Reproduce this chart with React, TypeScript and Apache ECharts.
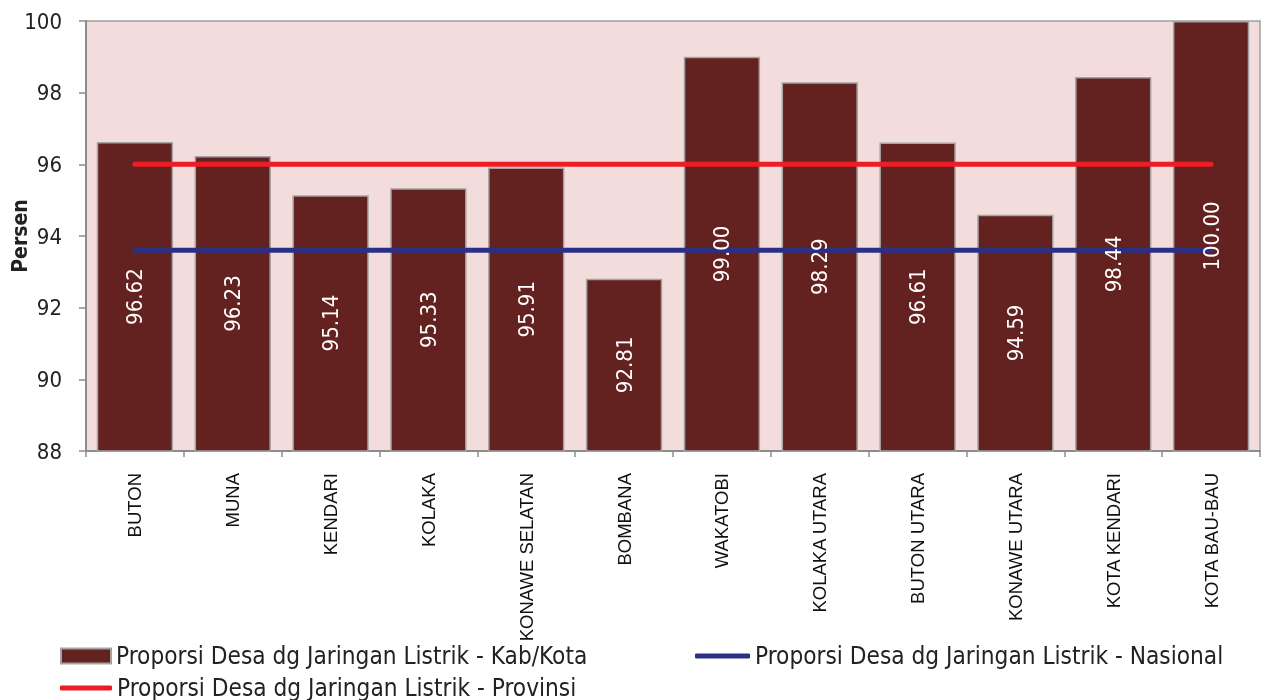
import React, { useEffect, useRef } from "react";
import * as echarts from "echarts";

const categories = [
  "BUTON", "MUNA", "KENDARI", "KOLAKA", "KONAWE SELATAN", "BOMBANA",
  "WAKATOBI", "KOLAKA UTARA", "BUTON UTARA", "KONAWE UTARA", "KOTA KENDARI", "KOTA BAU-BAU",
];
const kabKota = [96.62, 96.23, 95.14, 95.33, 95.91, 92.81, 99.0, 98.29, 96.61, 94.59, 98.44, 100.0];
const nasional = [93.6, 93.6, 93.6, 93.6, 93.6, 93.6, 93.6, 93.6, 93.6, 93.6, 93.6, 93.6];
const provinsi = [96.0, 96.0, 96.0, 96.0, 96.0, 96.0, 96.0, 96.0, 96.0, 96.0, 96.0, 96.0];
const yTicks = { min: 88, max: 100, interval: 2 };

const NAME_BAR = "Proporsi Desa dg Jaringan Listrik - Kab/Kota";
const NAME_NAS = "Proporsi Desa dg Jaringan Listrik - Nasional";
const NAME_PROV = "Proporsi Desa dg Jaringan Listrik - Provinsi";

const FONT = "'DejaVu Sans Condensed', 'DejaVu Sans', sans-serif";

export default function App() {
  const ref = useRef<HTMLDivElement>(null);
  useEffect(() => {
    if (!ref.current) return;
    const chart = echarts.init(ref.current, undefined, { renderer: "svg" });
    const legendText = { fontFamily: FONT, fontSize: 24.2, color: "#222" };
    chart.setOption({
      animation: false,
      grid: {
        left: 86, right: 4, top: 21, bottom: 249,
        containLabel: false, outerBoundsMode: "none",
        show: true, backgroundColor: "#F3DCDC", borderColor: "#A0A0A0", borderWidth: 1.5,
      },
      legend: [
        {
          left: 60, top: 644, padding: 0, data: [{ name: NAME_BAR, icon: "rect" }],
          itemWidth: 50, itemHeight: 15, textStyle: legendText,
        },
        {
          left: 695, top: 644, padding: 0, data: [{ name: NAME_NAS, icon: "roundRect" }],
          itemWidth: 55, itemHeight: 5, textStyle: legendText,
        },
        {
          left: 60, top: 676, padding: 0, data: [{ name: NAME_PROV, icon: "roundRect" }],
          itemWidth: 52, itemHeight: 5, textStyle: legendText,
        },
      ],
      xAxis: {
        type: "category",
        data: categories,
        axisLine: { lineStyle: { color: "#8C8C8C", width: 2 } },
        axisTick: { show: true, alignWithLabel: false, length: 6, lineStyle: { color: "#8C8C8C", width: 1.5 } },
        axisLabel: {
          rotate: 90, interval: 0, margin: 22,
          fontFamily: "'Liberation Sans', Arial, sans-serif", fontSize: 18.5, color: "#111",
        },
        splitLine: { show: false },
      },
      yAxis: {
        type: "value",
        min: yTicks.min, max: yTicks.max, interval: yTicks.interval,
        name: "Persen", nameLocation: "middle", nameGap: 56, nameMoveOverlap: false,
        nameTextStyle: { fontFamily: FONT, fontSize: 21, fontWeight: "bold", color: "#222" },
        axisLine: { show: true, lineStyle: { color: "#8C8C8C", width: 2 } },
        axisTick: { show: true, length: 7, lineStyle: { color: "#8C8C8C", width: 1.5 } },
        axisLabel: { fontFamily: FONT, fontSize: 22, color: "#222", margin: 24 },
        splitLine: { show: false },
      },
      series: [
        {
          name: NAME_BAR,
          type: "bar",
          data: kabKota,
          barCategoryGap: "22%",
          z: 1,
          itemStyle: { color: "#63221F", borderColor: "#A3A3A3", borderWidth: 1.5 },
        },
        {
          name: NAME_PROV,
          type: "line",
          data: provinsi,
          symbol: "none",
          z: 3,
          lineStyle: { color: "#EE1C25", width: 5, cap: "round" },
          itemStyle: { color: "#EE1C25" },
        },
        {
          name: NAME_NAS,
          type: "line",
          data: nasional,
          symbol: "none",
          z: 3,
          lineStyle: { color: "#2B3087", width: 5, cap: "round" },
          itemStyle: { color: "#2B3087" },
        },
        {
          name: "labels",
          type: "bar",
          data: kabKota,
          barCategoryGap: "22%",
          barGap: "-100%",
          z: 5,
          itemStyle: { color: "rgba(0,0,0,0)", borderWidth: 0 },
          label: {
            show: true, position: "inside", rotate: 90,
            fontFamily: FONT, fontSize: 22, color: "#FFFFFF",
            formatter: (p: any) => Number(p.value).toFixed(2),
          },
          silent: true,
        },
      ],
    });
    return () => chart.dispose();
  }, []);
  return (
    <div
      ref={ref}
      style={{ position: "fixed", left: 0, top: 0, width: 1264, height: 700 }}
    />
  );
}
